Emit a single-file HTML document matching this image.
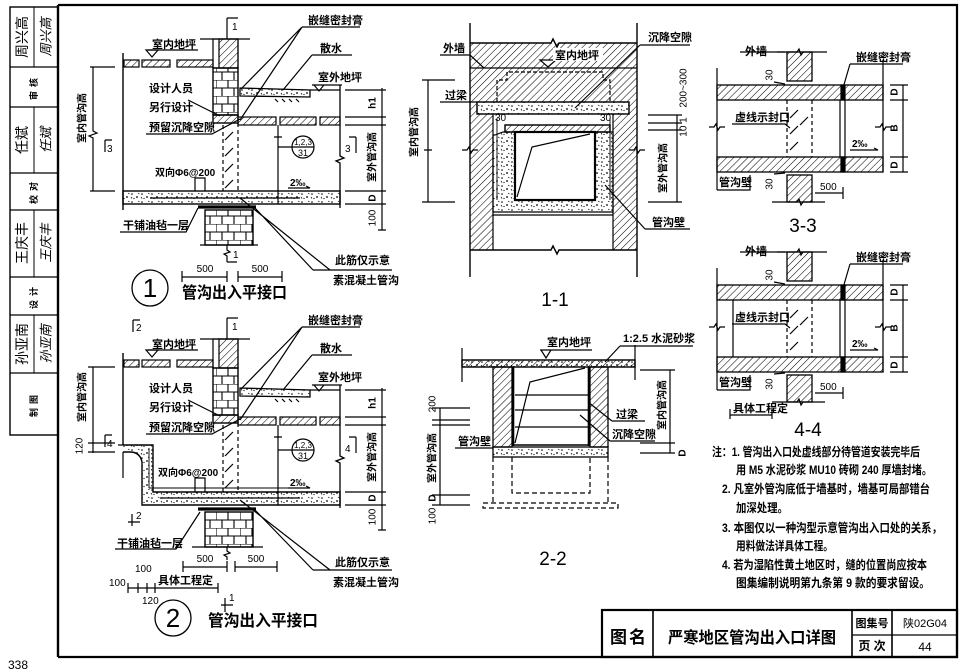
<!DOCTYPE html>
<html><head><meta charset="utf-8">
<style>
html,body{margin:0;padding:0;background:#fff;}
svg{display:block;}
text{font-family:"Liberation Sans","Noto Sans CJK SC",sans-serif;fill:#000;stroke:none;}
.l{font-size:11px;font-weight:bold;}
.s{font-size:10px;font-weight:bold;}
.n{font-size:10px;}
.big{font-size:19px;}
.ttl{font-size:16px;font-weight:bold;}
.nt{font-size:12px;font-weight:bold;}
</style></head><body>
<svg width="966" height="671" viewBox="0 0 966 671" xmlns="http://www.w3.org/2000/svg">
<defs>
<pattern id="h" width="5" height="5" patternUnits="userSpaceOnUse" patternTransform="rotate(45)"><line x1="0" y1="0" x2="0" y2="5" stroke="#000" stroke-width="1.05"/></pattern>
<pattern id="c" width="10" height="8" patternUnits="userSpaceOnUse"><circle cx="2" cy="2" r="0.8" fill="#000"/><circle cx="7" cy="5" r="0.9" fill="#000"/><circle cx="4" cy="6.5" r="0.6" fill="#000"/><path d="M8 1l1.5 1" stroke="#000" stroke-width="0.7"/><path d="M1 5l1 1.5" stroke="#000" stroke-width="0.7"/></pattern>
<pattern id="b" width="24" height="16" patternUnits="userSpaceOnUse"><path d="M0 0H24M0 8H24M0 0V8M12 0V8M6 8V16M18 8V16" stroke="#000" stroke-width="1.1" fill="none"/></pattern>
</defs>

<!-- ===== FRAME ===== -->
<g stroke="#000" fill="none">
<path d="M58 5V657" stroke-width="2.4"/>
<path d="M58 5H957V657H58" stroke-width="2.2"/>
<rect x="10" y="7" width="48" height="428" stroke-width="1.4"/>
<path d="M10 67H58M10 107H58M10 173H58M10 210H58M10 277H58M10 315H58M10 373H58" stroke-width="1.2"/>
<path d="M34 7V67M34 107V173M34 210V277M34 315V373" stroke-width="1"/>
</g>
<g text-anchor="middle" dominant-baseline="central">
<text transform="translate(22,37) rotate(-90)" font-size="14">周兴高</text>
<text transform="translate(46,37) rotate(-90)" font-size="13" font-style="italic">周兴高</text>
<text transform="translate(34,87) rotate(-90)" font-size="9" font-weight="bold" letter-spacing="4">审核</text>
<text transform="translate(22,140) rotate(-90)" font-size="14">任斌</text>
<text transform="translate(46,140) rotate(-90)" font-size="13" font-style="italic">任斌</text>
<text transform="translate(34,191) rotate(-90)" font-size="9" font-weight="bold" letter-spacing="4">校对</text>
<text transform="translate(22,243) rotate(-90)" font-size="14">王庆丰</text>
<text transform="translate(46,243) rotate(-90)" font-size="13" font-style="italic">王庆丰</text>
<text transform="translate(34,296) rotate(-90)" font-size="9" font-weight="bold" letter-spacing="4">设计</text>
<text transform="translate(22,344) rotate(-90)" font-size="14">孙亚南</text>
<text transform="translate(46,344) rotate(-90)" font-size="13" font-style="italic">孙亚南</text>
<text transform="translate(34,404) rotate(-90)" font-size="9" font-weight="bold" letter-spacing="4">制图</text>
</g>
<text x="8" y="669" font-size="12">338</text>

<!-- ===== DETAIL 1 ===== -->
<g stroke="#000" fill="none" stroke-width="1.2">
<path d="M200 39H250M227 18V39M227 18H238"/>
<rect x="213" y="39" width="25" height="29"/>
<rect x="219" y="39" width="19" height="29" fill="url(#h)"/>
<path d="M148 50H198"/>
<path d="M146 50H158L152 57Z"/>
<rect x="124" y="60" width="15" height="7" fill="url(#h)"/>
<rect x="142" y="60" width="28" height="7" fill="url(#h)"/>
<rect x="177" y="60" width="36" height="7" fill="url(#h)"/>
<rect x="213" y="68" width="25" height="47" fill="url(#b)" stroke-width="1.4"/>
<rect x="213" y="115" width="25" height="8" fill="url(#h)" stroke-width="1.4"/>
<path d="M123 53V210" stroke-width="1.4"/>
<rect x="123" y="191" width="217" height="13" fill="url(#c)" stroke-width="1.4"/>
<path d="M150 198H300M278 191V204"/>
<path d="M240 88L310 90V97L240 96Z" fill="url(#c)" stroke-width="1.3"/>
<path d="M275 99l3 3M282 99l3 3M289 99l3 3M296 99l3 3"/>
<path d="M310 90H340"/>
<rect x="238" y="117" width="38" height="8" fill="url(#h)"/>
<rect x="280" y="117" width="36" height="8" fill="url(#h)"/>
<rect x="320" y="117" width="20" height="8" fill="url(#h)"/>
<path d="M278 125V191M274 137H282"/>
<path d="M340 85V156l4 2-8 3 4 2V208" stroke-width="1.3"/>
<path d="M223 125V191M238 123V191" stroke-dasharray="4 3"/>
<path d="M225 140l8-8M225 156l8-8M225 172l8-8M225 188l8-8"/>
<path d="M198 207H256" stroke-width="3.2"/>
<rect x="205" y="210" width="48" height="35" fill="url(#b)" stroke-width="1.4"/>
<path d="M200 245H258"/>
<path d="M227 245V250l3 2-6 2 3 2V262M227 262H237"/>
<circle cx="303" cy="147" r="11"/>
<path d="M292 147H314M292 147H278"/>
<path d="M90 67H115M90 191H115M93 67V131l4 2-8 3 4 2V191"/>
<path d="M105 140V152M105 140H112"/>
<path d="M356 137V153M349 137H356"/>
<path d="M345 90H386M345 117H386M345 125H386M345 191H386M345 204H386M382 88V230M378 230H386"/>
<path d="M302 27H360M302 27L241 89M302 27L240 120"/>
<path d="M312 55H352M312 55L283 90"/>
<path d="M312 85H342M314 85H324L319 91Z"/>
<path d="M188 100L220 116"/>
<path d="M146 134H212L240 119"/>
<path d="M195 191V178H205V191"/>
<path d="M288 188H310l-4-2"/>
<path d="M120 232H186L198 208"/>
<path d="M313 270H392M313 270L255 208M330 270L240 198"/>
<path d="M182 277H227M238 277H282M182 271V282M227 271V282M238 271V282M282 271V282"/>
<circle cx="150" cy="288" r="18" stroke-width="1.3"/>
</g>
<g>
<text x="232" y="30" class="n">1</text>
<text x="152" y="48" class="l">室内地坪</text>
<text x="308" y="24" class="l">嵌缝密封膏</text>
<text x="320" y="52" class="l">散水</text>
<text x="318" y="81" class="l">室外地坪</text>
<text x="149" y="92" class="l">设计人员</text>
<text x="149" y="111" class="l">另行设计</text>
<text x="149" y="131" class="l">预留沉降空隙</text>
<text x="155" y="176" class="s">双向Φ6@200</text>
<text x="290" y="186" class="s">2‰</text>
<text x="123" y="229" class="l">干铺油毡一层</text>
<text x="335" y="264" class="l">此筋仅示意</text>
<text x="333" y="284" class="l">素混凝土管沟</text>
<text x="205" y="272" class="n" text-anchor="middle">500</text>
<text x="260" y="272" class="n" text-anchor="middle">500</text>
<text x="303" y="145" font-size="8" text-anchor="middle">1,2,3</text>
<text x="303" y="156" font-size="9" text-anchor="middle">31</text>
<text x="107" y="152" class="n">3</text>
<text x="345" y="152" class="n">3</text>
<text x="233" y="258" class="n">1</text>
<text x="150" y="297" font-size="26" text-anchor="middle">1</text>
<text x="182" y="298" class="ttl" textLength="105" lengthAdjust="spacingAndGlyphs">管沟出入平接口</text>
<g text-anchor="middle" dominant-baseline="central" font-size="10" font-weight="bold">
<text transform="translate(83,118) rotate(-90)">室内管沟高</text>
<text transform="translate(373,103) rotate(-90)">h1</text>
<text transform="translate(373,157) rotate(-90)">室外管沟高</text>
<text transform="translate(373,198) rotate(-90)">D</text>
<text transform="translate(373,218) rotate(-90)" font-weight="normal">100</text>
</g>
</g>

<!-- ===== DETAIL 2 ===== -->
<g stroke="#000" fill="none" stroke-width="1.2">
<path d="M133 320V332M133 320H140"/>
<path d="M200 339H250M227 318V339M227 318H238"/>
<rect x="213" y="339" width="25" height="29"/>
<rect x="219" y="339" width="19" height="29" fill="url(#h)"/>
<path d="M148 350H198"/>
<path d="M146 350H158L152 357Z"/>
<rect x="124" y="360" width="15" height="7" fill="url(#h)"/>
<rect x="142" y="360" width="28" height="7" fill="url(#h)"/>
<rect x="177" y="360" width="36" height="7" fill="url(#h)"/>
<rect x="213" y="368" width="25" height="47" fill="url(#b)" stroke-width="1.4"/>
<rect x="213" y="415" width="25" height="8" fill="url(#h)" stroke-width="1.4"/>
<path d="M123 353V445" stroke-width="1.4"/>
<path d="M123 445H153V492H340V505H142V462Q140 452 130 452H123" fill="url(#c)" stroke-width="1.4"/>
<path d="M118 445H123M123 452V478"/>
<path d="M149 448V488M149 488H300" stroke-width="0.9"/>
<path d="M160 498H300M278 492V505"/>
<path d="M240 388L310 390V397L240 396Z" fill="url(#c)" stroke-width="1.3"/>
<path d="M275 399l3 3M282 399l3 3M289 399l3 3M296 399l3 3"/>
<path d="M310 390H340"/>
<rect x="238" y="417" width="38" height="8" fill="url(#h)"/>
<rect x="280" y="417" width="36" height="8" fill="url(#h)"/>
<rect x="320" y="417" width="20" height="8" fill="url(#h)"/>
<path d="M278 425V492M274 437H282"/>
<path d="M340 385V456l4 2-8 3 4 2V508" stroke-width="1.3"/>
<path d="M223 425V492M238 423V492" stroke-dasharray="4 3"/>
<path d="M225 440l8-8M225 456l8-8M225 472l8-8M225 488l8-8"/>
<path d="M198 509H256" stroke-width="3.2"/>
<rect x="205" y="512" width="48" height="35" fill="url(#b)" stroke-width="1.4"/>
<path d="M192 547H263"/>
<path d="M227 547V551l3 2-6 2 3 2V560"/>
<path d="M132 514V526M128 522H140"/>
<circle cx="303" cy="450" r="11"/>
<path d="M292 450H314M292 450H278"/>
<path d="M88 367H115M88 443H115M88 452H115M93 367V453"/>
<path d="M105 435V447M105 435H112"/>
<path d="M356 437V453M349 437H356"/>
<path d="M345 390H386M345 417H386M345 425H386M345 492H386M345 505H386M382 388V530M378 530H386"/>
<path d="M302 327H360M302 327L241 389M302 327L240 420"/>
<path d="M312 355H352M312 355L283 390"/>
<path d="M312 385H342M314 385H324L319 391Z"/>
<path d="M188 400L220 416"/>
<path d="M146 434H212L240 419"/>
<path d="M195 492V478H205V492"/>
<path d="M288 488H310l-4-2"/>
<path d="M115 549H176L200 512"/>
<path d="M313 570H392M313 570L255 510M330 570L240 500"/>
<path d="M183 567H227M235 567H277M183 561V572M227 561V572M235 561V572M277 561V572"/>
<path d="M128 588H218M128 583V593M138 583V593M147 583V593M155 583V593M218 583V593"/>
<path d="M225 598V612M221 605H233"/>
<circle cx="173" cy="618" r="18" stroke-width="1.3"/>
</g>
<g>
<text x="136" y="519" class="n">2</text>
<text x="136" y="331" class="n">2</text>
<text x="232" y="330" class="n">1</text>
<text x="152" y="348" class="l">室内地坪</text>
<text x="308" y="324" class="l">嵌缝密封膏</text>
<text x="320" y="352" class="l">散水</text>
<text x="318" y="381" class="l">室外地坪</text>
<text x="149" y="392" class="l">设计人员</text>
<text x="149" y="411" class="l">另行设计</text>
<text x="149" y="431" class="l">预留沉降空隙</text>
<text x="158" y="476" class="s">双向Φ6@200</text>
<text x="290" y="486" class="s">2‰</text>
<text x="117" y="547" class="l">干铺油毡一层</text>
<text x="335" y="566" class="l">此筋仅示意</text>
<text x="333" y="586" class="l">素混凝土管沟</text>
<text x="205" y="562" class="n" text-anchor="middle">500</text>
<text x="256" y="562" class="n" text-anchor="middle">500</text>
<text x="135" y="572" class="n">100</text>
<text x="109" y="586" class="n">100</text>
<text x="158" y="584" class="l">具体工程定</text>
<text x="142" y="604" class="n">120</text>
<text x="303" y="448" font-size="8" text-anchor="middle">1,2,3</text>
<text x="303" y="459" font-size="9" text-anchor="middle">31</text>
<text x="107" y="447" class="n">4</text>
<text x="345" y="452" class="n">4</text>
<text x="229" y="601" class="n">1</text>
<text x="173" y="627" font-size="26" text-anchor="middle">2</text>
<text x="208" y="626" class="ttl" textLength="110" lengthAdjust="spacingAndGlyphs">管沟出入平接口</text>
<g text-anchor="middle" dominant-baseline="central" font-size="10" font-weight="bold">
<text transform="translate(83,397) rotate(-90)">室内管沟高</text>
<text transform="translate(80,446) rotate(-90)" font-weight="normal">120</text>
<text transform="translate(373,403) rotate(-90)">h1</text>
<text transform="translate(373,457) rotate(-90)">室外管沟高</text>
<text transform="translate(373,498) rotate(-90)">D</text>
<text transform="translate(373,517) rotate(-90)" font-weight="normal">100</text>
</g>
</g>

<!-- ===== SECTION 1-1 ===== -->
<g stroke="#000" fill="none" stroke-width="1.2">
<rect x="470" y="43" width="167" height="59" fill="url(#h)" stroke="none"/>
<rect x="470" y="102" width="23" height="148" fill="url(#h)" stroke="none"/>
<rect x="613" y="102" width="24" height="148" fill="url(#h)" stroke="none"/>
<path d="M470 23V277M637 23V277" stroke-width="1.4"/>
<path d="M470 43H551l2-4 4 8 2-4H637" stroke-width="1.4"/>
<path d="M470 68H637"/>
<path d="M497 102V80H507V72H603V80H610V102" stroke-dasharray="4 2"/>
<rect x="477" y="102" width="152" height="12" fill="#fff"/>
<rect x="477" y="102" width="152" height="12" fill="url(#c)" stroke-width="1.3"/>
<path d="M493 114V250M613 114V250"/>
<rect x="505" y="125" width="105" height="7" fill="#fff"/>
<rect x="505" y="125" width="105" height="7" fill="url(#h)" stroke-width="1.3"/>
<path d="M495 135L503 132H613V212H493V135Z" fill="url(#c)"/>
<rect x="515" y="132" width="80" height="68" fill="#fff" stroke-width="2.2"/>
<path d="M517 197L532 147L590 134"/>
<path d="M497 118V200M610 118V200" stroke-width="0.9"/>
<path d="M493 215H613"/>
<path d="M470 250H551l2-4 4 8 2-4H637" stroke-width="1.4"/>
<path d="M462 150H467l2-3 2 6 2-3H478M629 150H634l2-3 2 6 2-3H645"/>
<path d="M540 60H556L548 67Z" fill="#fff"/>
<path d="M428 80V202M422 80H455M422 202H455M424 150h8"/>
<path d="M677 115V202M648 115H682M648 123H682M648 130H682M648 202H682"/>
<path d="M440 55H470L484 68"/>
<path d="M440 102H477"/>
<path d="M640 45H690M640 45L575 108"/>
<path d="M645 229H690M645 229L605 185"/>
</g>
<rect x="553" y="48" width="50" height="13" fill="#fff"/>
<g>
<text x="555" y="59" class="l">室内地坪</text>
<text x="443" y="52" class="l">外墙</text>
<text x="445" y="99" class="l">过梁</text>
<text x="648" y="41" class="l">沉降空隙</text>
<text x="652" y="226" class="l">管沟壁</text>
<text x="495" y="121" class="n">30</text>
<text x="600" y="121" class="n">30</text>
<text x="555" y="306" class="big" text-anchor="middle">1-1</text>
<g text-anchor="middle" dominant-baseline="central" font-size="10" font-weight="bold">
<text transform="translate(415,132) rotate(-90)">室内管沟高</text>
<text transform="translate(664,168) rotate(-90)">室外管沟高</text>
<text transform="translate(684,88) rotate(-90)" font-weight="normal">200~300</text>
<text transform="translate(684,127) rotate(-90)" font-weight="normal">10 1</text>
</g>
</g>

<!-- ===== SECTION 2-2 ===== -->
<g stroke="#000" fill="none" stroke-width="1.2">
<rect x="462" y="360" width="173" height="7" fill="url(#c)"/>
<rect x="462" y="360" width="173" height="7" fill="url(#h)" stroke-width="1.3"/>
<path d="M462 348V382M635 345V380"/>
<rect x="493" y="367" width="19" height="80" fill="url(#h)" stroke-width="1.3"/>
<rect x="590" y="367" width="18" height="80" fill="url(#h)" stroke-width="1.3"/>
<path d="M513 367V446M589 367V446" stroke-width="2.6"/>
<path d="M513 445H589" stroke-width="1.6"/>
<path d="M515 395H588M515 410H588M515 427H588"/>
<path d="M515 443L530 382L585 368"/>
<rect x="493" y="447" width="115" height="10" fill="url(#c)" stroke-width="1.3"/>
<path d="M493 457V502M608 457V502M512 457V493H590V457M483 503H618V508H483Z" stroke-dasharray="5 3"/>
<path d="M440 408V505M432 408H470M432 420H470M432 425H470M432 495H470M432 505H470"/>
<path d="M670 370V453M640 370H675M640 443H675M640 453H675"/>
<path d="M540 350H592M541 350H551L546 358Z"/>
<path d="M620 346H693M620 346L605 362"/>
<path d="M455 448H493"/>
<path d="M612 421H645M612 421L588 402"/>
<path d="M610 441H655M610 441L580 415"/>
</g>
<g>
<text x="547" y="346" class="l">室内地坪</text>
<text x="623" y="342" class="l">1:2.5 水泥砂浆</text>
<text x="458" y="445" class="l">管沟壁</text>
<text x="616" y="418" class="l">过梁</text>
<text x="612" y="438" class="l">沉降空隙</text>
<text x="553" y="565" class="big" text-anchor="middle">2-2</text>
<g text-anchor="middle" dominant-baseline="central" font-size="10" font-weight="bold">
<text transform="translate(433,404) rotate(-90)" font-weight="normal">200</text>
<text transform="translate(433,458) rotate(-90)">室外管沟高</text>
<text transform="translate(433,498) rotate(-90)">D</text>
<text transform="translate(433,516) rotate(-90)" font-weight="normal">100</text>
<text transform="translate(663,405) rotate(-90)">室内管沟高</text>
<text transform="translate(683,453) rotate(-90)">D</text>
</g>
</g>

<!-- ===== SECTION 3-3 ===== -->
<g stroke="#000" fill="none" stroke-width="1.2">
<path d="M740 52H785"/>
<path d="M777 52H797l2-3 2 6 2-3H827"/>
<rect x="787" y="52" width="25" height="29" fill="url(#h)" stroke-width="1.3"/>
<rect x="717" y="85" width="166" height="15" fill="url(#h)" stroke-width="1.3"/>
<rect x="717" y="157" width="166" height="15" fill="url(#h)" stroke-width="1.3"/>
<rect x="841" y="85" width="4" height="15" fill="#000"/>
<rect x="841" y="157" width="4" height="15" fill="#000"/>
<path d="M840 100V157M845 100V157"/>
<path d="M787 100V157M812 100V157" stroke-dasharray="4 3"/>
<path d="M790 118l8-8M790 134l8-8M790 150l8-8M800 125l8-8"/>
<path d="M717 68V190M883 60V172"/>
<path d="M709 127H714l2-3 2 6 2-3H725M875 127H880l2-3 2 6 2-3H891"/>
<rect x="787" y="175" width="25" height="27" fill="url(#h)" stroke-width="1.3"/>
<path d="M772 202H797l2-3 2 6 2-3H825"/>
<path d="M850 64H903M850 64L843 88"/>
<path d="M732 124H785L790 128"/>
<path d="M850 150H878l-4-2"/>
<path d="M717 190H750V175"/>
<path d="M815 193H843M843 187V199"/>
<path d="M903 85V172M890 85H908M890 100H908M890 157H908M890 172H908"/>
<path d="M774 82L785 84M774 174L785 173"/>
</g>
<g>
<text x="745" y="55" class="l">外墙</text>
<text x="856" y="61" class="l">嵌缝密封膏</text>
<text x="735" y="121" class="l">虚线示封口</text>
<text x="852" y="147" class="s">2‰</text>
<text x="719" y="186" class="l">管沟壁</text>
<text x="820" y="190" class="n">500</text>
<text x="803" y="232" class="big" text-anchor="middle">3-3</text>
<g text-anchor="middle" dominant-baseline="central" font-size="10" font-weight="bold">
<text transform="translate(770,75) rotate(-90)" font-weight="normal">30</text>
<text transform="translate(770,184) rotate(-90)" font-weight="normal">30</text>
<text transform="translate(895,92) rotate(-90)">D</text>
<text transform="translate(895,128) rotate(-90)">B</text>
<text transform="translate(895,165) rotate(-90)">D</text>
</g>
</g>

<!-- ===== SECTION 4-4 ===== -->
<g stroke="#000" fill="none" stroke-width="1.2">
<path d="M740 252H785"/>
<path d="M777 252H797l2-3 2 6 2-3H827"/>
<rect x="787" y="252" width="25" height="29" fill="url(#h)" stroke-width="1.3"/>
<rect x="717" y="285" width="166" height="15" fill="url(#h)" stroke-width="1.3"/>
<rect x="717" y="357" width="166" height="15" fill="url(#h)" stroke-width="1.3"/>
<rect x="841" y="285" width="4" height="15" fill="#000"/>
<rect x="841" y="357" width="4" height="15" fill="#000"/>
<path d="M840 300V357M845 300V357M733 300V357"/>
<path d="M787 300V357M812 300V357" stroke-dasharray="4 3"/>
<path d="M790 318l8-8M790 334l8-8M790 350l8-8M800 325l8-8"/>
<path d="M717 268V390M883 260V372"/>
<path d="M709 327H714l2-3 2 6 2-3H725M875 327H880l2-3 2 6 2-3H891"/>
<rect x="787" y="375" width="25" height="27" fill="url(#h)" stroke-width="1.3"/>
<path d="M772 402H797l2-3 2 6 2-3H825"/>
<path d="M850 264H903M850 264L843 288"/>
<path d="M732 324H785L790 328"/>
<path d="M850 350H878l-4-2"/>
<path d="M717 390H750V375"/>
<path d="M815 393H843M843 387V399"/>
<path d="M903 285V372M890 285H908M890 300H908M890 357H908M890 372H908"/>
<path d="M774 282L785 284M774 374L785 373"/>
<path d="M730 415H772M730 409V419M772 409V419"/>
</g>
<g>
<text x="745" y="255" class="l">外墙</text>
<text x="856" y="261" class="l">嵌缝密封膏</text>
<text x="735" y="321" class="l">虚线示封口</text>
<text x="852" y="347" class="s">2‰</text>
<text x="719" y="386" class="l">管沟壁</text>
<text x="820" y="390" class="n">500</text>
<text x="733" y="412" class="l">具体工程定</text>
<text x="808" y="436" class="big" text-anchor="middle">4-4</text>
<g text-anchor="middle" dominant-baseline="central" font-size="10" font-weight="bold">
<text transform="translate(770,275) rotate(-90)" font-weight="normal">30</text>
<text transform="translate(770,384) rotate(-90)" font-weight="normal">30</text>
<text transform="translate(895,292) rotate(-90)">D</text>
<text transform="translate(895,328) rotate(-90)">B</text>
<text transform="translate(895,365) rotate(-90)">D</text>
</g>
</g>

<!-- ===== NOTES ===== -->
<g>
<text x="712" y="456" class="nt" textLength="208" lengthAdjust="spacingAndGlyphs">注：1. 管沟出入口处虚线部分待管道安装完毕后</text>
<text x="736" y="474" class="nt" textLength="196" lengthAdjust="spacingAndGlyphs">用 M5 水泥砂浆 MU10 砖砌 240 厚墙封堵。</text>
<text x="722" y="493" class="nt" textLength="208" lengthAdjust="spacingAndGlyphs">2. 凡室外管沟底低于墙基时，墙基可局部错台</text>
<text x="736" y="512" class="nt" textLength="52" lengthAdjust="spacingAndGlyphs">加深处理。</text>
<text x="722" y="532" class="nt" textLength="220" lengthAdjust="spacingAndGlyphs">3. 本图仅以一种沟型示意管沟出入口处的关系，</text>
<text x="736" y="550" class="nt" textLength="97" lengthAdjust="spacingAndGlyphs">用料做法详具体工程。</text>
<text x="722" y="569" class="nt" textLength="205" lengthAdjust="spacingAndGlyphs">4. 若为湿陷性黄土地区时，缝的位置尚应按本</text>
<text x="736" y="587" class="nt" textLength="194" lengthAdjust="spacingAndGlyphs">图集编制说明第九条第 9 款的要求留设。</text>
</g>

<!-- ===== TITLE BLOCK ===== -->
<g stroke="#000" fill="none">
<rect x="602" y="610" width="355" height="47" stroke-width="2.2"/>
<path d="M653 610V657M852 610V657M892 610V657" stroke-width="1.6"/>
<path d="M852 635H957" stroke-width="1.3"/>
</g>
<text x="610" y="643" font-size="17" font-weight="bold" textLength="36" lengthAdjust="spacing">图 名</text>
<text x="668" y="643" font-size="16" font-weight="bold" textLength="168" lengthAdjust="spacingAndGlyphs">严寒地区管沟出入口详图</text>
<text x="872" y="627" font-size="11" font-weight="bold" text-anchor="middle">图集号</text>
<text x="925" y="627" font-size="11" text-anchor="middle">陕02G04</text>
<text x="872" y="650" font-size="12" font-weight="bold" text-anchor="middle">页  次</text>
<text x="925" y="651" font-size="12" text-anchor="middle">44</text>
</svg>
</body></html>
